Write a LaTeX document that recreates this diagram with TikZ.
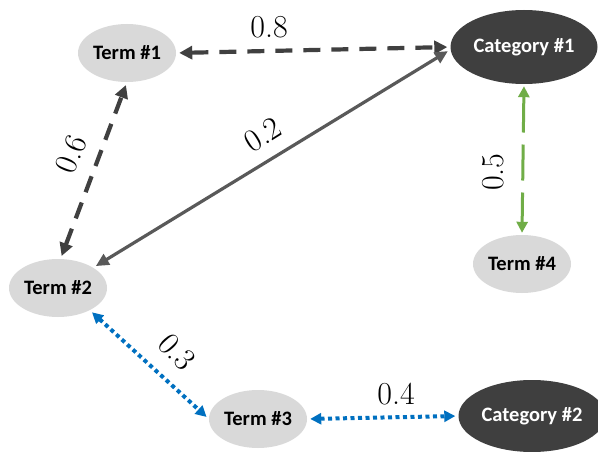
\documentclass[tikz,border=0pt]{standalone}
\usepackage{fontspec}
\setmainfont{Latin Modern Roman}
\newfontfamily\nodefont{Carlito}
\usetikzlibrary{arrows.meta,shapes.geometric}
\definecolor{lightnode}{HTML}{D9D9D9}
\definecolor{darknode}{HTML}{3F3F3F}
\definecolor{darkedge}{HTML}{404040}
\definecolor{solidedge}{HTML}{595959}
\definecolor{greenedge}{HTML}{70AD47}
\definecolor{blueedge}{HTML}{0070C0}
\tikzset{
  term/.style={ellipse, fill=lightnode, minimum width=98pt, minimum height=58pt,
    inner sep=0pt, font=\nodefont\bfseries\fontsize{20.5pt}{24pt}\selectfont, text=black},
  category/.style={ellipse, fill=darknode, minimum width=147pt, minimum height=74pt,
    inner sep=0pt, font=\nodefont\bfseries\fontsize{20.5pt}{24pt}\selectfont, text=white},
  weight/.style={font=\fontsize{32pt}{36pt}\selectfont, inner sep=0pt},
  darkdash/.style={draw=darkedge, line width=4.2pt, dash pattern=on 17pt off 11pt,
    {Triangle[length=13pt,width=13pt]}-{Triangle[length=13pt,width=13pt]},
    shorten <=3pt, shorten >=3pt},
  solidlink/.style={draw=solidedge, line width=3.2pt,
    {Triangle[length=13pt,width=12pt]}-{Triangle[length=13pt,width=12pt]},
    shorten <=3pt, shorten >=3pt},
  greenlink/.style={draw=greenedge, line width=3pt, dash pattern=on 36pt off 12pt,
    {Triangle[length=11pt,width=11pt]}-{Triangle[length=11pt,width=11pt]},
    shorten <=2pt, shorten >=2pt},
  bluelink/.style={draw=blueedge, line width=4pt, dash pattern=on 4pt off 3.5pt,
    {Triangle[length=11pt,width=11pt]}-{Triangle[length=11pt,width=11pt]},
    shorten <=3pt, shorten >=3pt},
}
\begin{document}
\begin{tikzpicture}[x=1pt,y=-1pt]
\useasboundingbox (0,0) rectangle (598,452);

% nodes
\node[term] (t1) at (127,53) {Term \#1};
\node[category] (c1) at (524,47) {Category \#1};
\node[term] (t2) at (58,288) {Term \#2};
\node[term] (t4) at (522,264) {Term \#4};
\node[term] (t3) at (258,419) {Term \#3};
\node[category, minimum height=72pt] (c2) at (532,416) {Category \#2};

% links
\draw[darkdash] (t1.east) -- (c1.west);
\draw[darkdash] (t2.85) -- (t1.south);
\draw[solidlink] (t2.30) -- (c1.182);
\draw[greenlink] (c1.south) -- (t4.north);
\draw[bluelink] (t2.-35) -- (t3.west);
\draw[bluelink] (t3.east) -- (c2.west);

% weights
\node[weight] (w08) at (269,27) {0.8};
\node[weight, rotate=68] (w06) at (71,154) {0.6};
\node[weight, rotate=32] (w02) at (263,135) {0.2};
\node[weight, rotate=90] (w05) at (493,172) {0.5};
\node[weight, rotate=-48] (w03) at (177,352) {0.3};
\node[weight] (w04) at (396,394) {0.4};
\end{tikzpicture}
\end{document}
